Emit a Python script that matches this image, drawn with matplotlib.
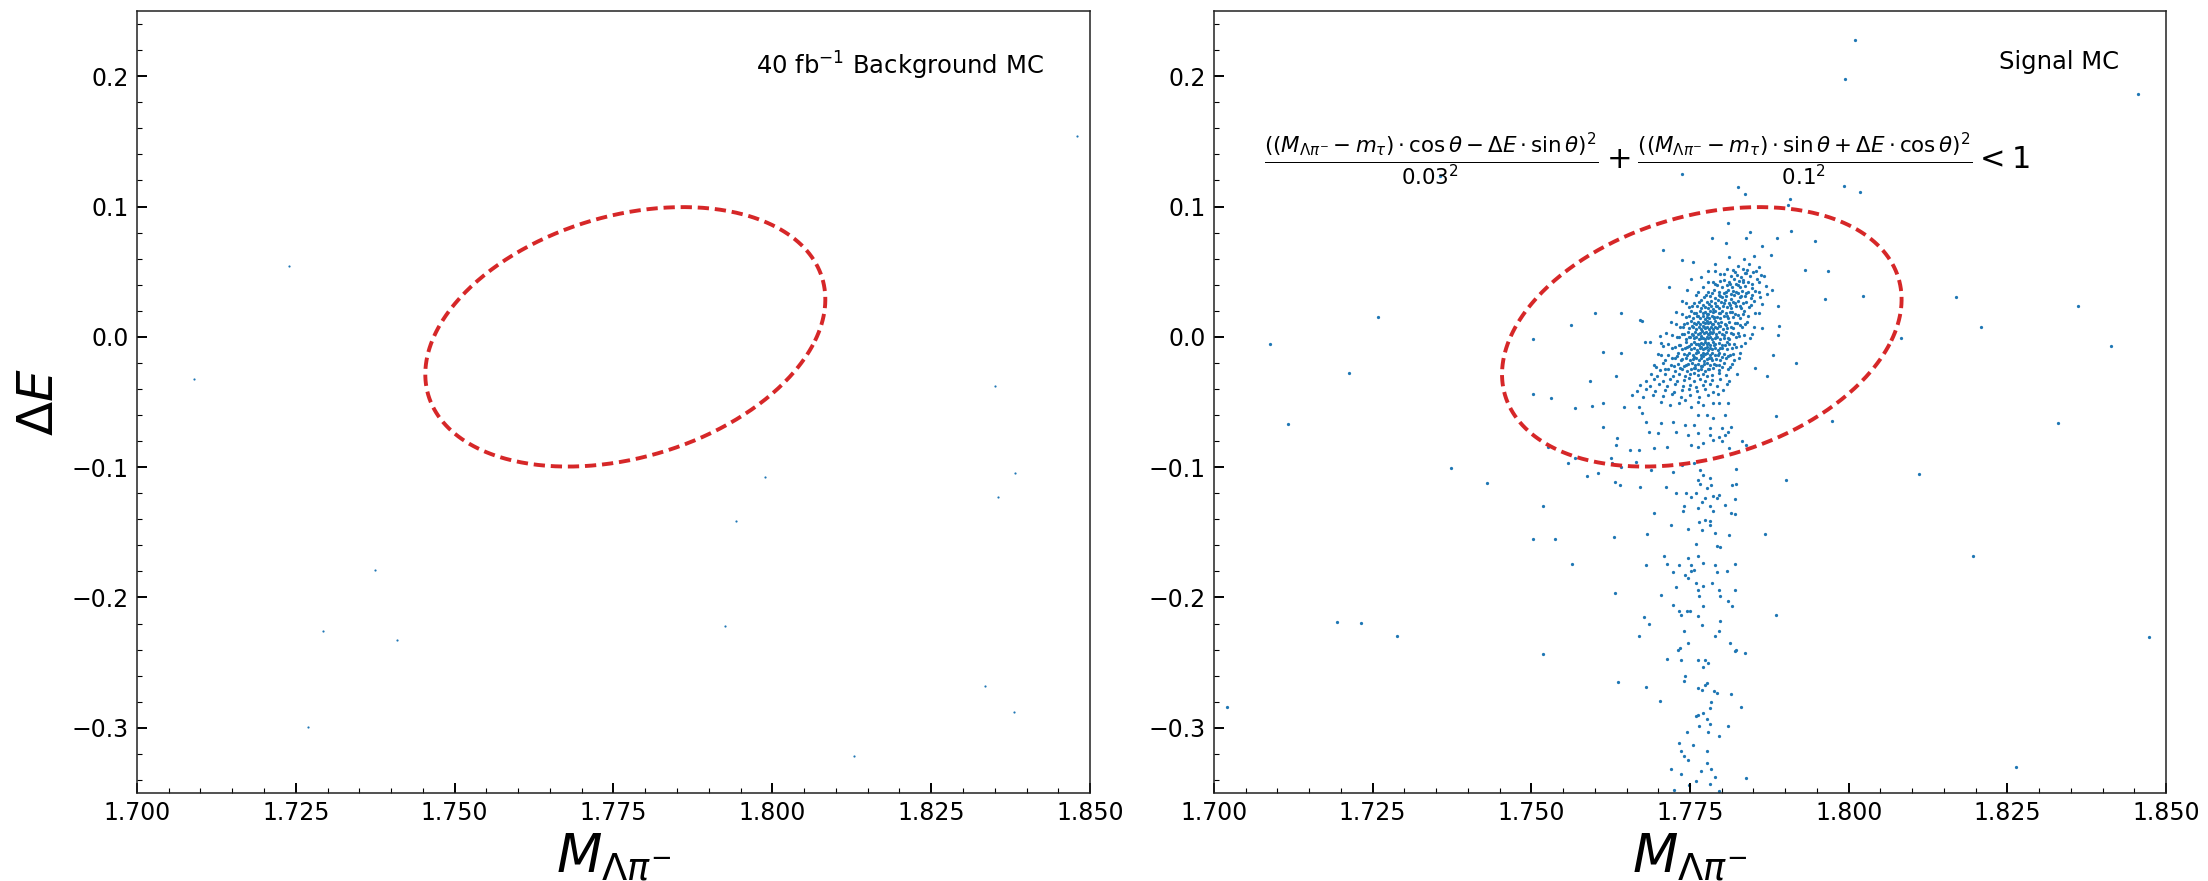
import matplotlib.pyplot as plt
import numpy as np
from matplotlib.ticker import MultipleLocator, FormatStrFormatter

# Elliptical signal region: ((M - m_tau)cos(th) - dE sin(th))^2/0.03^2 + (...)^2/0.1^2 < 1
M_TAU = 1.77686
THETA = 0.1
HALF_M = 0.03
HALF_DE = 0.1

# 40 fb^-1 background MC candidates (M_{Lambda pi}, Delta E)
bkg_m = [1.8479, 1.7239, 1.7090, 1.8351, 1.8382, 1.8355, 1.7988, 1.7942,
         1.7375, 1.7293, 1.7410, 1.7926, 1.7269, 1.8335, 1.8380, 1.8128]
bkg_de = [0.1539, 0.0545, -0.0323, -0.0378, -0.1043, -0.1230, -0.1078, -0.1414,
          -0.1790, -0.2255, -0.2329, -0.2216, -0.2994, -0.2677, -0.2881, -0.3217]

# Signal MC: dense peak around (m_tau, 0)
signal_core = [
    (1.7812, 0.0612), (1.7835, 0.0594), (1.7851, 0.0621),
    (1.7789, 0.0561), (1.7826, 0.0547), (1.7843, 0.0558), (1.7858, 0.0539),
    (1.7779, 0.0503), (1.7808, 0.0518), (1.7821, 0.0497), (1.7833, 0.0522), (1.7840, 0.0509), (1.7849, 0.0495),
    (1.7768, 0.0462), (1.7797, 0.0481), (1.7815, 0.0466), (1.7824, 0.0475), (1.7830, 0.0458), (1.7838, 0.0486),
    (1.7845, 0.0469), (1.7862, 0.0477),
    (1.7752, 0.0441), (1.7786, 0.0423), (1.7804, 0.0437), (1.7812, 0.0418), (1.7819, 0.0445), (1.7827, 0.0429),
    (1.7834, 0.0436), (1.7842, 0.0421), (1.7855, 0.0440),
    (1.7771, 0.0384), (1.7793, 0.0398), (1.7800, 0.0379), (1.7808, 0.0395), (1.7816, 0.0386), (1.7822, 0.0402),
    (1.7829, 0.0381), (1.7836, 0.0393), (1.7848, 0.0378), (1.7869, 0.0390),
    (1.7745, 0.0356), (1.7779, 0.0341), (1.7788, 0.0359), (1.7795, 0.0346), (1.7803, 0.0338), (1.7810, 0.0361),
    (1.7818, 0.0349), (1.7825, 0.0337), (1.7832, 0.0355), (1.7841, 0.0344), (1.7853, 0.0352),
    (1.7760, 0.0318), (1.7772, 0.0302), (1.7781, 0.0315), (1.7789, 0.0297), (1.7796, 0.0322), (1.7801, 0.0306),
    (1.7807, 0.0311), (1.7814, 0.0294), (1.7820, 0.0319), (1.7828, 0.0303), (1.7837, 0.0314), (1.7846, 0.0299),
    (1.7860, 0.0308),
    (1.7738, 0.0276), (1.7757, 0.0262), (1.7768, 0.0281), (1.7776, 0.0265), (1.7783, 0.0273), (1.7789, 0.0258),
    (1.7794, 0.0279), (1.7799, 0.0267), (1.7805, 0.0284), (1.7811, 0.0261), (1.7818, 0.0270), (1.7825, 0.0277),
    (1.7833, 0.0263), (1.7851, 0.0272),
    (1.7749, 0.0226), (1.7761, 0.0238), (1.7767, 0.0219), (1.7773, 0.0231), (1.7778, 0.0224), (1.7783, 0.0240),
    (1.7787, 0.0217), (1.7791, 0.0233), (1.7796, 0.0222), (1.7802, 0.0236), (1.7808, 0.0228), (1.7815, 0.0218),
    (1.7822, 0.0235), (1.7830, 0.0225), (1.7843, 0.0232),
    (1.7728, 0.0188), (1.7752, 0.0196), (1.7759, 0.0181), (1.7765, 0.0199), (1.7770, 0.0185), (1.7774, 0.0193),
    (1.7778, 0.0178), (1.7782, 0.0201), (1.7786, 0.0187), (1.7790, 0.0195), (1.7795, 0.0182), (1.7800, 0.0198),
    (1.7806, 0.0184), (1.7813, 0.0192), (1.7821, 0.0179), (1.7835, 0.0196), (1.7858, 0.0186),
    (1.7744, 0.0156), (1.7755, 0.0142), (1.7761, 0.0159), (1.7766, 0.0147), (1.7770, 0.0161), (1.7774, 0.0139),
    (1.7777, 0.0153), (1.7780, 0.0145), (1.7784, 0.0158), (1.7788, 0.0141), (1.7792, 0.0155), (1.7797, 0.0148),
    (1.7803, 0.0162), (1.7810, 0.0144), (1.7818, 0.0151), (1.7829, 0.0146),
    (1.7720, 0.0114), (1.7741, 0.0102), (1.7751, 0.0119), (1.7757, 0.0106), (1.7762, 0.0113), (1.7766, 0.0099),
    (1.7770, 0.0117), (1.7773, 0.0104), (1.7776, 0.0121), (1.7779, 0.0108), (1.7782, 0.0115), (1.7786, 0.0101),
    (1.7790, 0.0118), (1.7794, 0.0107), (1.7799, 0.0112), (1.7805, 0.0100), (1.7812, 0.0116), (1.7824, 0.0109),
    (1.7840, 0.0113),
    (1.7735, 0.0072), (1.7748, 0.0064), (1.7755, 0.0079), (1.7760, 0.0061), (1.7764, 0.0075), (1.7768, 0.0058),
    (1.7771, 0.0081), (1.7774, 0.0066), (1.7777, 0.0073), (1.7780, 0.0059), (1.7783, 0.0078), (1.7786, 0.0063),
    (1.7789, 0.0076), (1.7793, 0.0068), (1.7797, 0.0080), (1.7802, 0.0062), (1.7809, 0.0071), (1.7817, 0.0065),
    (1.7832, 0.0074),
    (1.7712, 0.0033), (1.7738, 0.0021), (1.7747, 0.0038), (1.7753, 0.0024), (1.7758, 0.0035), (1.7762, 0.0019),
    (1.7766, 0.0031), (1.7769, 0.0042), (1.7772, 0.0026), (1.7775, 0.0037), (1.7778, 0.0018), (1.7781, 0.0034),
    (1.7784, 0.0027), (1.7787, 0.0040), (1.7791, 0.0022), (1.7795, 0.0036), (1.7800, 0.0025), (1.7806, 0.0039),
    (1.7814, 0.0028), (1.7826, 0.0032), (1.7848, 0.0023),
    (1.7729, -0.0004), (1.7743, -0.0017), (1.7750, 0.0002), (1.7756, -0.0012), (1.7760, -0.0001), (1.7764, -0.0019),
    (1.7767, 0.0003), (1.7770, -0.0008), (1.7773, -0.0015), (1.7776, 0.0001), (1.7779, -0.0011), (1.7782, -0.0002),
    (1.7785, -0.0018), (1.7789, -0.0006), (1.7793, 0.0000), (1.7798, -0.0014), (1.7804, -0.0007), (1.7811, -0.0016),
    (1.7822, -0.0003),
    (1.7705, -0.0048), (1.7733, -0.0061), (1.7744, -0.0042), (1.7751, -0.0057), (1.7756, -0.0039), (1.7760, -0.0053),
    (1.7764, -0.0064), (1.7767, -0.0044), (1.7770, -0.0058), (1.7773, -0.0041), (1.7776, -0.0055), (1.7779, -0.0047),
    (1.7782, -0.0062), (1.7786, -0.0040), (1.7790, -0.0054), (1.7795, -0.0045), (1.7801, -0.0059), (1.7809, -0.0043),
    (1.7819, -0.0056), (1.7836, -0.0049),
    (1.7722, -0.0086), (1.7738, -0.0097), (1.7746, -0.0081), (1.7752, -0.0094), (1.7757, -0.0083), (1.7761, -0.0101),
    (1.7765, -0.0088), (1.7768, -0.0079), (1.7771, -0.0096), (1.7774, -0.0085), (1.7778, -0.0099), (1.7781, -0.0082),
    (1.7785, -0.0093), (1.7789, -0.0087), (1.7794, -0.0098), (1.7800, -0.0084), (1.7808, -0.0092), (1.7816, -0.0089),
    (1.7699, -0.0128), (1.7716, -0.0137), (1.7731, -0.0121), (1.7741, -0.0135), (1.7748, -0.0124), (1.7754, -0.0141),
    (1.7759, -0.0126), (1.7763, -0.0119), (1.7767, -0.0138), (1.7770, -0.0127), (1.7774, -0.0133), (1.7777, -0.0122),
    (1.7781, -0.0140), (1.7785, -0.0125), (1.7790, -0.0136), (1.7796, -0.0123), (1.7803, -0.0131), (1.7813, -0.0139),
    (1.7829, -0.0126),
    (1.7710, -0.0176), (1.7726, -0.0163), (1.7736, -0.0179), (1.7744, -0.0166), (1.7750, -0.0181), (1.7755, -0.0168),
    (1.7760, -0.0159), (1.7764, -0.0177), (1.7768, -0.0165), (1.7772, -0.0183), (1.7776, -0.0170), (1.7780, -0.0161),
    (1.7785, -0.0178), (1.7791, -0.0167), (1.7798, -0.0174), (1.7807, -0.0162), (1.7820, -0.0180),
    (1.7693, -0.0214), (1.7707, -0.0203), (1.7720, -0.0219), (1.7731, -0.0206), (1.7740, -0.0222), (1.7747, -0.0209),
    (1.7753, -0.0199), (1.7758, -0.0217), (1.7763, -0.0205), (1.7767, -0.0223), (1.7772, -0.0211), (1.7777, -0.0201),
    (1.7782, -0.0218), (1.7788, -0.0207), (1.7795, -0.0215), (1.7804, -0.0204), (1.7816, -0.0212),
    (1.7702, -0.0256), (1.7715, -0.0243), (1.7727, -0.0259), (1.7737, -0.0246), (1.7745, -0.0261), (1.7752, -0.0248),
    (1.7758, -0.0239), (1.7763, -0.0257), (1.7768, -0.0245), (1.7774, -0.0262), (1.7780, -0.0250), (1.7787, -0.0241),
    (1.7796, -0.0258), (1.7810, -0.0247),
    (1.7688, -0.0288), (1.7698, -0.0301), (1.7711, -0.0284), (1.7723, -0.0297), (1.7733, -0.0282), (1.7742, -0.0299),
    (1.7750, -0.0286), (1.7757, -0.0279), (1.7763, -0.0295), (1.7770, -0.0283), (1.7777, -0.0302), (1.7785, -0.0289),
    (1.7795, -0.0281), (1.7806, -0.0296), (1.7824, -0.0287),
    (1.7680, -0.0336), (1.7694, -0.0322), (1.7707, -0.0339), (1.7719, -0.0325), (1.7730, -0.0341), (1.7740, -0.0328),
    (1.7749, -0.0319), (1.7757, -0.0337), (1.7765, -0.0324), (1.7774, -0.0342), (1.7784, -0.0329), (1.7797, -0.0321),
    (1.7812, -0.0338),
    (1.7672, -0.0368), (1.7687, -0.0381), (1.7701, -0.0364), (1.7714, -0.0377), (1.7727, -0.0362), (1.7739, -0.0379),
    (1.7750, -0.0366), (1.7760, -0.0383), (1.7770, -0.0369), (1.7781, -0.0361), (1.7793, -0.0378), (1.7808, -0.0365),
    (1.7666, -0.0416), (1.7680, -0.0402), (1.7695, -0.0419), (1.7710, -0.0405), (1.7724, -0.0421), (1.7737, -0.0408),
    (1.7749, -0.0399), (1.7761, -0.0417), (1.7773, -0.0404), (1.7787, -0.0422), (1.7802, -0.0409),
    (1.7659, -0.0448), (1.7676, -0.0461), (1.7692, -0.0444), (1.7707, -0.0457), (1.7722, -0.0442), (1.7736, -0.0459),
    (1.7750, -0.0446), (1.7764, -0.0463), (1.7778, -0.0449), (1.7794, -0.0441),
]

# Signal MC: wider shoulder of the peak
signal_shoulder = [
    (1.7790, 0.0502), (1.7803, 0.0484), (1.7818, 0.0511), (1.7836, 0.0489), (1.7854, 0.0506),
    (1.7779, 0.0417), (1.7790, 0.0402), (1.7798, 0.0428), (1.7813, 0.0409), (1.7825, 0.0395), (1.7833, 0.0424),
    (1.7847, 0.0404), (1.7858, 0.0419),
    (1.7762, 0.0344), (1.7775, 0.0321), (1.7785, 0.0339), (1.7798, 0.0317), (1.7806, 0.0346), (1.7815, 0.0325),
    (1.7823, 0.0341), (1.7831, 0.0316), (1.7839, 0.0337), (1.7847, 0.0322), (1.7858, 0.0343), (1.7871, 0.0328),
    (1.7744, 0.0258), (1.7753, 0.0236), (1.7764, 0.0264), (1.7771, 0.0241), (1.7780, 0.0255), (1.7792, 0.0233),
    (1.7803, 0.0262), (1.7813, 0.0244), (1.7821, 0.0257), (1.7829, 0.0238), (1.7838, 0.0266), (1.7846, 0.0246),
    (1.7864, 0.0253),
    (1.7738, 0.0176), (1.7748, 0.0159), (1.7757, 0.0184), (1.7763, 0.0163), (1.7776, 0.0178), (1.7788, 0.0155),
    (1.7798, 0.0181), (1.7809, 0.0161), (1.7816, 0.0187), (1.7825, 0.0166), (1.7833, 0.0174), (1.7841, 0.0158),
    (1.7852, 0.0182),
    (1.7728, 0.0096), (1.7739, 0.0078), (1.7746, 0.0103), (1.7753, 0.0084), (1.7759, 0.0098), (1.7772, 0.0076),
    (1.7784, 0.0101), (1.7796, 0.0082), (1.7807, 0.0094), (1.7815, 0.0073), (1.7821, 0.0105), (1.7829, 0.0087),
    (1.7837, 0.0097), (1.7851, 0.0079),
    (1.7722, 0.0017), (1.7733, -0.0004), (1.7741, 0.0023), (1.7748, 0.0001), (1.7755, 0.0015), (1.7768, -0.0007),
    (1.7780, 0.0020), (1.7791, -0.0002), (1.7803, 0.0012), (1.7810, -0.0008), (1.7818, 0.0024), (1.7827, 0.0005),
    (1.7835, 0.0014), (1.7844, -0.0006),
    (1.7716, -0.0058), (1.7727, -0.0081), (1.7735, -0.0063), (1.7742, -0.0086), (1.7749, -0.0071), (1.7762, -0.0054),
    (1.7776, -0.0077), (1.7788, -0.0061), (1.7798, -0.0084), (1.7805, -0.0066), (1.7812, -0.0052), (1.7822, -0.0075),
    (1.7830, -0.0068),
    (1.7704, -0.0141), (1.7721, -0.0163), (1.7729, -0.0147), (1.7737, -0.0168), (1.7746, -0.0136), (1.7757, -0.0155),
    (1.7770, -0.0144), (1.7783, -0.0161), (1.7794, -0.0139), (1.7801, -0.0158), (1.7810, -0.0149), (1.7818, -0.0134),
    (1.7827, -0.0166),
    (1.7697, -0.0228), (1.7711, -0.0244), (1.7724, -0.0221), (1.7735, -0.0239), (1.7743, -0.0215), (1.7756, -0.0236),
    (1.7769, -0.0226), (1.7779, -0.0243), (1.7791, -0.0219), (1.7800, -0.0235), (1.7813, -0.0228),
]

# Signal MC: sparse points around the peak
signal_halo = [
    (1.7356, 0.1233), (1.7738, 0.1246), (1.7826, 0.1153), (1.7837, 0.1097), (1.7992, 0.1161), (1.8018, 0.1113),
    (1.7908, 0.1054), (1.7904, 0.1008), (1.7810, 0.0875), (1.7844, 0.0803), (1.7909, 0.0811), (1.7947, 0.0739),
    (1.7784, 0.0760), (1.7806, 0.0721), (1.7839, 0.0757), (1.7863, 0.0696), (1.7877, 0.0629), (1.7887, 0.0760),
    (1.7707, 0.0665), (1.7738, 0.0588), (1.7755, 0.0578), (1.7931, 0.0512), (1.7967, 0.0504), (1.7866, 0.0463),
    (1.7879, 0.0361), (1.7717, 0.0386), (1.7963, 0.0294), (1.8023, 0.0317), (1.7889, 0.0240), (1.7600, 0.0184),
    (1.7641, 0.0184), (1.7671, 0.0130), (1.7675, 0.0125), (1.7563, 0.0087), (1.7863, 0.0069), (1.7891, 0.0082),
    (1.7889, 0.0015), (1.7502, -0.0020), (1.7679, -0.0036), (1.7687, -0.0036), (1.7703, 0.0003), (1.7708, -0.0074),
    (1.7613, -0.0118), (1.7642, -0.0123), (1.7881, -0.0138), (1.7917, -0.0200), (1.7852, -0.0240), (1.7634, -0.0304),
    (1.7871, -0.0304), (1.7593, -0.0340), (1.7502, -0.0442),
]

# Signal MC: low-side Delta E tail
signal_tail = [
    (1.7531, -0.0471), (1.7569, -0.0548), (1.7596, -0.0527), (1.7613, -0.0510), (1.7646, -0.0535), (1.7670, -0.0535),
    (1.7675, -0.0586), (1.7680, -0.0650), (1.7704, -0.0497), (1.7718, -0.0522), (1.7733, -0.0510), (1.7742, -0.0484),
    (1.7752, -0.0535), (1.7762, -0.0497), (1.7771, -0.0522), (1.7786, -0.0510), (1.7795, -0.0510), (1.7810, -0.0510),
    (1.7762, -0.0599), (1.7776, -0.0599), (1.7786, -0.0625), (1.7805, -0.0599), (1.7704, -0.0663), (1.7723, -0.0650),
    (1.7742, -0.0676), (1.7757, -0.0676), (1.7781, -0.0701), (1.7800, -0.0701), (1.7810, -0.0727), (1.7814, -0.0688),
    (1.7685, -0.0727), (1.7699, -0.0739), (1.7728, -0.0727), (1.7747, -0.0752), (1.7762, -0.0739), (1.7781, -0.0752),
    (1.7795, -0.0765), (1.7805, -0.0752), (1.7635, -0.0778), (1.7634, -0.0829), (1.7656, -0.0867), (1.7670, -0.0867),
    (1.7694, -0.0854), (1.7713, -0.0842), (1.7752, -0.0829), (1.7762, -0.0842), (1.7771, -0.0816), (1.7786, -0.0791),
    (1.7800, -0.0803), (1.7812, -0.0854), (1.7832, -0.0803), (1.7838, -0.0829), (1.7613, -0.0688), (1.7526, -0.0842),
    (1.7558, -0.0969), (1.7569, -0.0931), (1.7588, -0.1064), (1.7605, -0.1041), (1.7625, -0.0931), (1.7627, -0.0969),
    (1.7641, -0.0995), (1.7665, -0.0957), (1.7689, -0.1020), (1.7723, -0.1038), (1.7738, -0.0982), (1.7757, -0.0969),
    (1.7766, -0.1020), (1.7771, -0.1059), (1.7781, -0.1084), (1.7762, -0.1097), (1.7766, -0.1130), (1.7776, -0.1161),
    (1.7783, -0.1140), (1.7760, -0.1199), (1.7773, -0.1238), (1.7786, -0.1225), (1.7795, -0.1212), (1.7792, -0.1238),
    (1.7822, -0.1013), (1.7823, -0.1130), (1.7816, -0.1140), (1.7632, -0.1110), (1.7639, -0.1135), (1.7671, -0.1156),
    (1.7712, -0.1156), (1.7728, -0.1199), (1.7744, -0.1199), (1.7752, -0.1230), (1.7740, -0.1296), (1.7739, -0.1340),
    (1.7762, -0.1314), (1.7769, -0.1268), (1.7781, -0.1301), (1.7805, -0.1289), (1.7821, -0.1243), (1.7814, -0.1352),
    (1.7821, -0.1358), (1.7787, -0.1340), (1.7720, -0.1442), (1.7764, -0.1424), (1.7773, -0.1409), (1.7781, -0.1411),
    (1.7781, -0.1447), (1.7747, -0.1475), (1.7769, -0.1485), (1.7790, -0.1506), (1.7812, -0.1519), (1.7759, -0.1587),
    (1.7792, -0.1608), (1.7798, -0.1616), (1.7709, -0.1685), (1.7733, -0.1748), (1.7713, -0.1743), (1.7747, -0.1697),
    (1.7752, -0.1748), (1.7757, -0.1787), (1.7752, -0.1799), (1.7763, -0.1679), (1.7771, -0.1736), (1.7790, -0.1748),
    (1.7808, -0.1799), (1.7821, -0.1741), (1.7723, -0.1805), (1.7742, -0.1825), (1.7793, -0.1805), (1.7747, -0.1851),
    (1.7760, -0.1889), (1.7771, -0.1909), (1.7784, -0.1889), (1.7795, -0.1940), (1.7798, -0.1991), (1.7821, -0.1940),
    (1.7728, -0.1922), (1.7762, -0.1940), (1.7764, -0.1991), (1.7810, -0.2029), (1.7816, -0.2068), (1.7723, -0.2055),
    (1.7733, -0.2106), (1.7745, -0.2106), (1.7750, -0.2106), (1.7736, -0.2132), (1.7771, -0.2068), (1.7762, -0.2144),
    (1.7798, -0.2183), (1.7769, -0.2208), (1.7795, -0.2254), (1.7790, -0.2298), (1.7740, -0.2259), (1.7747, -0.2349),
    (1.7735, -0.2387), (1.7731, -0.2400), (1.7813, -0.2349), (1.7821, -0.2413), (1.7714, -0.2469), (1.7736, -0.2476),
    (1.7762, -0.2481), (1.7774, -0.2476), (1.7778, -0.2502), (1.7771, -0.2535), (1.7742, -0.2604), (1.7740, -0.2642),
    (1.7776, -0.2655), (1.7774, -0.2673), (1.7762, -0.2693), (1.7769, -0.2706), (1.7788, -0.2719), (1.7792, -0.2732),
    (1.7783, -0.2801), (1.7781, -0.2847), (1.7762, -0.2898), (1.7760, -0.2911), (1.7771, -0.2885), (1.7777, -0.2936),
    (1.7764, -0.2987), (1.7781, -0.2974), (1.7745, -0.3033), (1.7779, -0.3033), (1.7795, -0.3064), (1.7733, -0.3115),
    (1.7755, -0.3128), (1.7736, -0.3179), (1.7740, -0.3217), (1.7776, -0.3174), (1.7747, -0.3250), (1.7776, -0.3268),
    (1.7767, -0.3332), (1.7783, -0.3319), (1.7720, -0.3319), (1.7736, -0.3358), (1.7790, -0.3375), (1.7760, -0.3409),
    (1.7748, -0.3442), (1.7725, -0.3480), (1.7781, -0.3429), (1.7795, -0.3485),
]

# Signal MC: isolated candidates far from the peak
signal_far = [
    (1.8010, 0.2276), (1.7994, 0.1980), (1.8456, 0.1864), (1.8169, 0.0304), (1.8362, 0.0235), (1.8209, 0.0079),
    (1.8413, -0.0067), (1.8082, -0.0008), (1.7258, 0.0153), (1.7088, -0.0054), (1.7212, -0.0276), (1.7885, -0.0608),
    (1.7973, -0.0647), (1.8329, -0.0660), (1.7117, -0.0670), (1.7373, -0.1008), (1.7430, -0.1123), (1.8110, -0.1056),
    (1.7902, -0.1095), (1.7518, -0.1296), (1.7502, -0.1552), (1.7537, -0.1552), (1.7564, -0.1746), (1.7630, -0.1539),
    (1.7868, -0.1513), (1.8196, -0.1682), (1.7632, -0.1966), (1.7886, -0.2132), (1.7194, -0.2190), (1.7231, -0.2198),
    (1.7288, -0.2292), (1.7518, -0.2433), (1.8473, -0.2300), (1.7636, -0.2650), (1.7021, -0.2842), (1.8263, -0.3301),
    (1.7839, -0.3383), (1.7703, -0.2791), (1.7680, -0.2683), (1.7670, -0.2298), (1.7677, -0.2152), (1.7686, -0.2200),
    (1.7680, -0.1753), (1.7683, -0.1513), (1.7694, -0.1352), (1.7837, -0.2428), (1.7822, -0.2405), (1.7831, -0.2839),
    (1.7814, -0.2740), (1.7810, -0.2987), (1.7704, -0.1983),
]

sig_m, sig_de = np.array(signal_core + signal_shoulder + signal_halo + signal_tail + signal_far).T

XLIM = (1.70, 1.85)
YLIM = (-0.35, 0.25)
CUT_COLOR = "#d62728"
DOT_COLOR = "#1f77b4"


def cut_ellipse(n=400):
    t = np.linspace(0, 2 * np.pi, n)
    u = HALF_M * np.cos(t)
    v = HALF_DE * np.sin(t)
    m = M_TAU + u * np.cos(THETA) + v * np.sin(THETA)
    de = -u * np.sin(THETA) + v * np.cos(THETA)
    return m, de


def style_axes(ax):
    ax.set_xlim(*XLIM)
    ax.set_ylim(*YLIM)
    ax.xaxis.set_major_locator(MultipleLocator(0.025))
    ax.xaxis.set_major_formatter(FormatStrFormatter("%.3f"))
    ax.xaxis.set_minor_locator(MultipleLocator(0.005))
    ax.yaxis.set_major_locator(MultipleLocator(0.1))
    ax.yaxis.set_minor_locator(MultipleLocator(0.02))
    ax.tick_params(which="major", direction="in", length=7, width=1.4, labelsize=17, pad=6)
    ax.tick_params(which="minor", direction="in", length=3.5, width=0.8)
    for sp in ax.spines.values():
        sp.set_linewidth(1.1)
        sp.set_color("#222222")
    ax.set_xlabel(r"$M_{\Lambda\pi^{-}}$", fontsize=38, labelpad=5)


fig = plt.figure(figsize=(22.08, 8.81), dpi=100)
ax_bkg = fig.add_axes([0.0620, 0.0999, 0.4317, 0.8876])
ax_sig = fig.add_axes([0.5498, 0.0999, 0.4312, 0.8876])

ell_m, ell_de = cut_ellipse()

ax_bkg.scatter(bkg_m, bkg_de, s=2.5, color=DOT_COLOR, linewidths=0)
ax_bkg.plot(ell_m, ell_de, color=CUT_COLOR, lw=2.8, dashes=(2.9, 1.5))
ax_bkg.text(0.951, 0.93, r"40 fb$^{-1}$ Background MC", transform=ax_bkg.transAxes,
            ha="right", va="center", fontsize=17.5)
ax_bkg.set_ylabel(r"$\Delta E$", fontsize=36, labelpad=6)
style_axes(ax_bkg)

ax_sig.scatter(sig_m, sig_de, s=5.5, color=DOT_COLOR, linewidths=0)
ax_sig.plot(ell_m, ell_de, color=CUT_COLOR, lw=2.8, dashes=(2.9, 1.5))
ax_sig.text(0.951, 0.935, "Signal MC", transform=ax_sig.transAxes,
            ha="right", va="center", fontsize=17.5)
formula = (r"$\frac{((M_{\Lambda\pi^{-}}-m_{\tau})\cdot\cos\theta-\Delta E\cdot\sin\theta)^2}{0.03^2}"
           r"+\frac{((M_{\Lambda\pi^{-}}-m_{\tau})\cdot\sin\theta+\Delta E\cdot\cos\theta)^2}{0.1^2}<1$")
ax_sig.text(0.0525, 0.1364, formula, transform=ax_sig.get_yaxis_transform(),
            ha="left", va="center", fontsize=22)
style_axes(ax_sig)

fig.savefig("out.png", dpi=100)
